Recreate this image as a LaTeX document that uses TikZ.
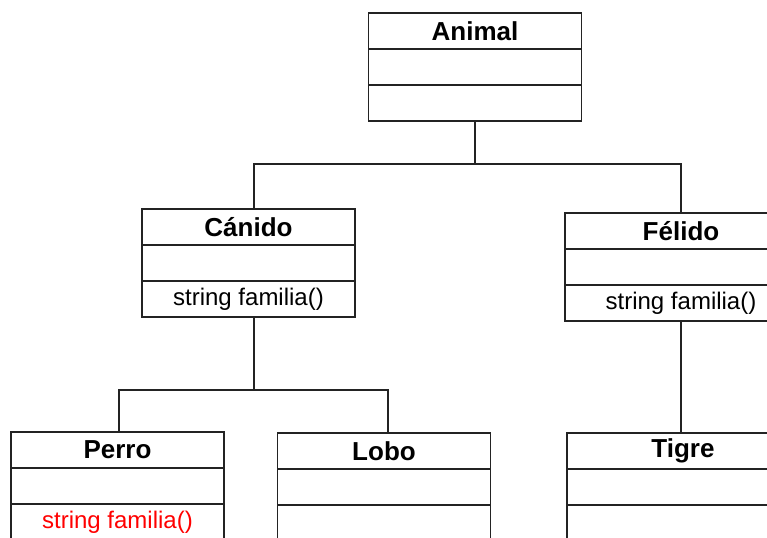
\documentclass[tikz,border=0pt]{standalone}
\usepackage{fontspec}
\setmainfont{Liberation Sans}
\usetikzlibrary{positioning}
\definecolor{linea}{RGB}{35,35,35}
\definecolor{rojo}{RGB}{255,0,0}

\tikzset{
  titulo/.style={draw=linea, line width=1.4pt, minimum width=159.75pt, minimum height=27pt,
    inner sep=0pt, outer sep=0pt, font=\fontsize{19.5}{22}\selectfont\bfseries},
  compart/.style={draw=linea, line width=1.4pt, minimum width=159.75pt, minimum height=27pt,
    inner sep=0pt, outer sep=0pt, font=\fontsize{18}{21}\selectfont},
  ancho/.style={minimum width=174pt},
  rama/.style={draw=linea, line width=1.4pt}
}

\begin{document}
\begin{tikzpicture}[x=0.75pt,y=-0.75pt]
        \useasboundingbox (0,0) rectangle (767,538);
        \clip (0,0) rectangle (767,538);

        % clase base
        \node[titulo] (animal) at (475,31) {Animal};
        \node[compart, below=0pt of animal] (animal-a) {};
        \node[compart, below=0pt of animal-a] (animal-m) {};

        % segundo nivel
        \node[titulo] (canido) at (248.5,227) {Cánido};
        \node[compart, below=0pt of canido] (canido-a) {};
        \node[compart, below=0pt of canido-a] (canido-m) {string familia()};

        \node[titulo, ancho] (felido) at (681,231) {Félido};
        \node[compart, ancho, below=0pt of felido] (felido-a) {};
        \node[compart, ancho, below=0pt of felido-a] (felido-m) {string familia()};

        % tercer nivel
        \node[titulo] (perro) at (117.5,450) {Perro};
        \node[compart, below=0pt of perro] (perro-a) {};
        \node[compart, below=0pt of perro-a, text=rojo] (perro-m) {string familia()};

        \node[titulo] (lobo) at (384,451) {Lobo};
        \node[compart, below=0pt of lobo] (lobo-a) {};
        \node[compart, below=0pt of lobo-a] (lobo-m) {};

        \node[titulo, ancho] (tigre) at (683,451) {Tigre};
        \node[compart, ancho, below=0pt of tigre] (tigre-a) {};
        \node[compart, ancho, below=0pt of tigre-a] (tigre-m) {};

        % herencia
        \draw[rama] (animal-m.south) -- ++(0,43) coordinate (b1) -| ([xshift=4pt]canido.north);
        \draw[rama] (b1) -| (felido.north);
        \draw[rama] ([xshift=4pt]canido-m.south) -- ++(0,73) coordinate (b2) -| ([xshift=1pt]perro.north);
        \draw[rama] (b2) -| ([xshift=3pt]lobo.north);
        \draw[rama] (felido-m.south) -- (felido-m.south |- tigre.north);
\end{tikzpicture}
\end{document}
